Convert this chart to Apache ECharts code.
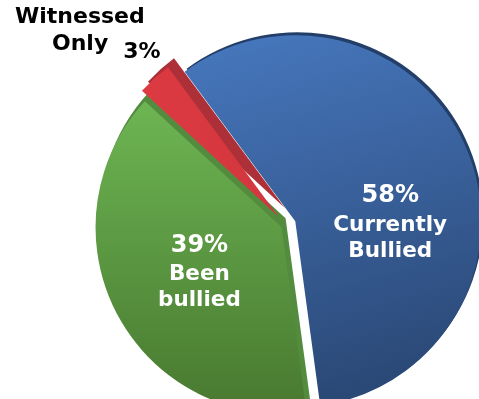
<!DOCTYPE html>
<html><head><meta charset="utf-8">
<script src="https://cdn.jsdelivr.net/npm/echarts@6/dist/echarts.min.js"></script>
<style>html,body{margin:0;padding:0;background:#fff}#c{width:479px;height:399px}</style>
</head><body><div id="c"></div>
<script>
// ---- data ----
const categories = ['Currently\nBullied', 'Been\nbullied', 'Witnessed\nOnly'];
const values = [58, 39, 3];

// ---- styling (not data) ----
const FONT = 'DejaVu Sans';
const CX = 286, CY = 225, R = 186, START = 126.5;
const explode = [10, 5, 11];
const depthShift = [[2, -3], [4, -9], [6, -9]];
const topColors = [
  new echarts.graphic.LinearGradient(0, 0, 0.35, 1, [{offset: 0, color: '#4778bf'}, {offset: 1, color: '#2b4977'}]),
  new echarts.graphic.LinearGradient(0, 0, 0, 1, [{offset: 0, color: '#6db553'}, {offset: 1, color: '#48782f'}]),
  new echarts.graphic.LinearGradient(0, 0, 1, 0, [{offset: 0, color: '#dd3a42'}, {offset: 1, color: '#d2363e'}])
];
const sideColors = ['#233f69', '#538b3f', '#ad2f37'];

const white = {color: '#fff', fontFamily: FONT, fontWeight: 'bold'};
const labelDefs = [
  { // Currently Bullied
    formatter: p => '{sp| }\n{p|' + p.value + '%}\n' + p.name.split('\n').map(s => '{n|' + s + '}').join('\n'),
    rich: {
      sp: {lineHeight: 74, fontSize: 10},
      p: Object.assign({fontSize: 24, lineHeight: 32, padding: [0, 0, 0, 12]}, white),
      n: Object.assign({fontSize: 21.5, lineHeight: 26, padding: [0, 0, 0, 12]}, white)
    }
  },
  { // Been bullied
    formatter: p => '{p|' + p.value + '%}\n' + p.name.split('\n').map(s => '{n|' + s + '}').join('\n'),
    rich: {
      p: Object.assign({fontSize: 24, lineHeight: 31, padding: [0, 0, 0, 6]}, white),
      n: Object.assign({fontSize: 21.5, lineHeight: 26, padding: [0, 0, 0, 6]}, white)
    }
  },
  null
];

function sliceSeries(k, isTop) {
  const sh = isTop ? [0, 0] : depthShift[k];
  return {
    type: 'pie',
    silent: true,
    animation: false,
    center: [CX + sh[0], CY + sh[1]],
    radius: [0, R],
    startAngle: START,
    clockwise: true,
    selectedMode: 'single',
    selectedOffset: explode[k],
    avoidLabelOverlap: false,
    labelLine: {show: false},
    emphasis: {disabled: true},
    label: {show: false},
    data: categories.map((name, i) => {
      const d = {name: name, value: values[i]};
      if (i === k) {
        d.selected = true;
        d.itemStyle = {color: isTop ? topColors[k] : sideColors[k]};
        if (isTop && labelDefs[k]) {
          d.label = Object.assign({show: true, position: 'inside'}, labelDefs[k]);
        }
      } else {
        d.itemStyle = {color: 'rgba(0,0,0,0)'};
      }
      return d;
    })
  };
}

// outside label of the small slice, built from the same arrays
const smallName = categories[2].split('\n');
const black = {fontFamily: FONT, fontWeight: 'bold', fontSize: 22, color: '#000', lineHeight: 27};

const chart = echarts.init(document.getElementById('c'), null, {renderer: 'canvas'});
chart.setOption({
  animation: false,
  title: {
    left: 15, top: 4, padding: 0,
    text: '{a|' + smallName[0] + '}\n{b|' + smallName[1] + '}{c|' + values[2] + '%}',
    textStyle: {
      rich: {
        a: Object.assign({}, black),
        b: Object.assign({padding: [0, 0, 0, 37]}, black),
        c: Object.assign({padding: [16, 0, 0, 15]}, black)
      }
    }
  },
  series: [
    sliceSeries(0, false), sliceSeries(1, false), sliceSeries(2, false),
    sliceSeries(1, true), sliceSeries(2, true), sliceSeries(0, true)
  ]
});
</script></body></html>
